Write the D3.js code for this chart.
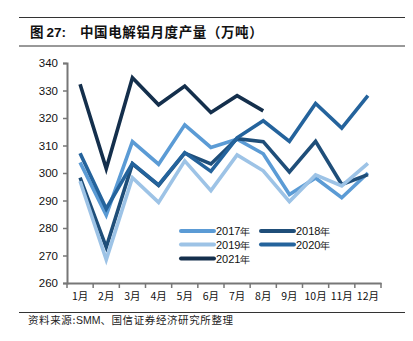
<!DOCTYPE html>
<html><head><meta charset="utf-8">
<script src="https://cdn.jsdelivr.net/npm/d3@7"></script>
<style>
body{margin:0;background:#fff;}
svg{display:block;}
</style></head>
<body>
<script>
const months = ["1月","2月","3月","4月","5月","6月","7月","8月","9月","10月","11月","12月"];
const yTicks = [260,270,280,290,300,310,320,330,340];
const seriesNames = ["2017年","2018年","2019年","2020年","2021年"];
const s2017 = [303.8,284.7,311.4,303.2,317.5,309.3,312.3,307.0,292.2,298.2,291.0,300.0];
const s2018 = [298.3,273.0,303.3,295.5,307.2,303.3,312.5,311.4,300.4,311.5,295.8,299.4];
const s2019 = [297.0,268.5,298.3,289.3,304.4,293.6,306.6,300.8,289.6,299.3,295.3,303.5];
const s2020 = [307.2,287.0,303.5,295.7,307.4,300.6,312.8,319.0,311.5,325.3,316.3,328.1];
const s2021 = [332.3,301.6,334.6,324.8,331.6,322.0,328.1,322.6];
const colors = ["#5b9bd5","#1f4e79","#9dc3e6","#24639c","#142f4c"];

const W=413,H=341;
const svg=d3.select("body").append("svg").attr("width",W).attr("height",H);
const font="'Liberation Sans', Arial, sans-serif";
const cjk="'Noto Sans CJK SC', sans-serif";

// header rules and title
svg.append("line").attr("x1",19).attr("x2",405).attr("y1",17.5).attr("y2",17.5).attr("stroke","#333").attr("stroke-width",1);
svg.append("line").attr("x1",19).attr("x2",405).attr("y1",46).attr("y2",46).attr("stroke","#333").attr("stroke-width",1);
const t=svg.append("text").attr("x",30).attr("y",36.5).attr("font-size",13.5).attr("font-weight","bold").attr("fill","#111").attr("font-family",cjk);
t.append("tspan").text("图 ");
t.append("tspan").attr("font-family",font).text("27:");
t.append("tspan").attr("x",80).attr("letter-spacing",0.6).text("中国电解铝月度产量（万吨）");

// source
svg.append("line").attr("x1",19).attr("x2",405).attr("y1",312.5).attr("y2",312.5).attr("stroke","#333").attr("stroke-width",1);
const s=svg.append("text").attr("x",28).attr("y",324).attr("font-size",10.5).attr("fill","#222").attr("font-family",cjk).attr("letter-spacing",0.6);
s.append("tspan").text("资料来源:");
s.append("tspan").attr("font-family",font).attr("letter-spacing",0).text("SMM");
s.append("tspan").text("、国信证券经济研究所整理");

const x=d3.scaleBand().domain(months).range([67,381]).padding(0);
const y=d3.scaleLinear().domain([260,340]).range([283,63]);

// y axis
const ya=svg.append("g").attr("transform","translate(67,0)")
  .call(d3.axisLeft(y).tickValues(yTicks).tickSize(4).tickPadding(5));
ya.select(".domain").attr("stroke","#777").attr("stroke-width",2);
ya.selectAll(".tick line").attr("stroke","#777").attr("stroke-width",1.5);
ya.selectAll("text").attr("font-family",font).attr("font-size",11.5).attr("fill","#111");

// x axis
const xa=svg.append("g").attr("transform","translate(0,283)")
  .call(d3.axisBottom(x).tickSize(0).tickPadding(10));
xa.select(".domain").attr("stroke","#777").attr("stroke-width",2);
xa.selectAll("text").attr("font-family",cjk).attr("font-size",10.5).attr("fill","#111");
const bounds=months.map(m=>x(m)).concat([x(months[11])+x.bandwidth()]);
xa.selectAll(".bt").data(bounds).enter().append("line")
  .attr("x1",d=>d).attr("x2",d=>d).attr("y1",0).attr("y2",5)
  .attr("stroke","#777").attr("stroke-width",1.5);

// lines
const all=[s2017,s2018,s2019,s2020,s2021];
const line=d3.line().x((d,i)=>x(months[i])+x.bandwidth()/2).y(d=>y(d));
all.forEach((data,k)=>{
  svg.append("path").datum(data).attr("d",line).attr("fill","none")
    .attr("stroke",colors[k]).attr("stroke-width",3.6).attr("stroke-linejoin","miter");
});

// legend
const legPos=[[181,231],[261,231],[181,244.5],[261,244.5],[181,258.5]];
seriesNames.forEach((n,k)=>{
  const [lx,ly]=legPos[k];
  svg.append("line").attr("x1",lx).attr("x2",lx+33).attr("y1",ly).attr("y2",ly)
    .attr("stroke",colors[k]).attr("stroke-width",4).attr("stroke-linecap","round");
  const tx=svg.append("text").attr("x",lx+35).attr("y",ly+4).attr("font-size",11).attr("fill","#111").attr("font-family",font);
  tx.append("tspan").text(n.slice(0,4));
  tx.append("tspan").attr("font-family",font).attr("font-size",10).text("年");
});
</script>
</body></html>
